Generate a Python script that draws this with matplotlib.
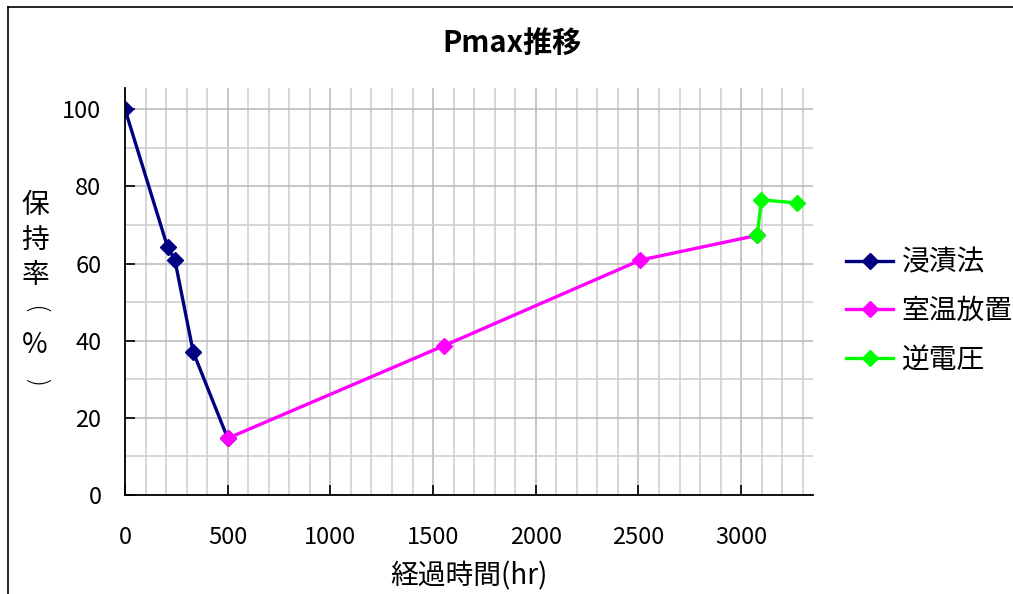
import matplotlib
matplotlib.use("Agg")
import matplotlib.pyplot as plt
from matplotlib.lines import Line2D
from matplotlib.ticker import MultipleLocator

plt.rcParams['font.family'] = ['Noto Sans CJK JP', 'DejaVu Sans']

# 経過時間 (hr) と保持率 (%)
dip_hours = [0, 207, 243, 332, 500]
dip_ratio = [100, 64.3, 60.9, 37.1, 14.7]

room_hours = [500, 1553, 2510, 3078]
room_ratio = [14.7, 38.7, 60.9, 67.3]

rev_hours = [3078, 3099, 3272]
rev_ratio = [67.3, 76.5, 75.7]

series_names = ['浸漬法', '室温放置', '逆電圧']
series_colors = ['#000080', '#ff00ff', '#00ff00']

W, H = 1013, 594
fig = plt.figure(figsize=(W / 100, H / 100), dpi=100)

# chart area frame (left and top edges visible)
fig.add_artist(Line2D([8 / W, 8 / W], [0, 1 - 7 / H], transform=fig.transFigure,
                      color='black', lw=1.2))
fig.add_artist(Line2D([8 / W, 1], [1 - 7 / H, 1 - 7 / H], transform=fig.transFigure,
                      color='black', lw=1.2))

ax = fig.add_axes([125 / W, 1 - 495 / H, (813 - 125) / W, (495 - 88) / H])

for xs, ys, c, name in zip([dip_hours, room_hours, rev_hours],
                           [dip_ratio, room_ratio, rev_ratio],
                           series_colors, series_names):
    ax.plot(xs, ys, color=c, lw=2.4, marker='D', markersize=8.5,
            markeredgecolor=c, label=name)

ax.set_xlim(0, 3350)
ax.set_ylim(0, 105.5)
ax.xaxis.set_major_locator(MultipleLocator(500))
ax.xaxis.set_minor_locator(MultipleLocator(100))
ax.yaxis.set_major_locator(MultipleLocator(20))
ax.yaxis.set_minor_locator(MultipleLocator(10))

ax.grid(which='major', color='#bdbdbd', lw=1.2)
ax.grid(which='minor', color='#d0d0d0', lw=1.2)
ax.set_axisbelow(True)

for side in ['top', 'right']:
    ax.spines[side].set_visible(False)
for side in ['left', 'bottom']:
    ax.spines[side].set_linewidth(1.3)

ax.tick_params(which='major', direction='in', length=7, width=1.2,
               labelsize=17)
ax.tick_params(axis='y', pad=17)
ax.tick_params(axis='x', pad=22)
ax.tick_params(which='minor', length=0)

ax.set_xlabel('経過時間(hr)', fontsize=20, labelpad=9)

fig.text(0.505, 1 - 43 / H, 'Pmax推移', ha='center', va='center',
         fontsize=21, fontweight='bold')

# vertical y-axis title, one character per line; brackets turned sideways
ylabel_chars = [('保', 205, 0), ('持', 240, 0), ('率', 275, 0),
                ('(', 310, -90), ('%', 345, 0), (')', 383, -90)]
for ch, py, rot in ylabel_chars:
    if rot:
        fig.text(35 / W, 1 - py / H, ch, ha='center', va='center',
                 fontsize=19, rotation=rot, family=['DejaVu Sans'],
                 fontweight='light')
    else:
        fig.text(35 / W, 1 - py / H, ch, ha='center', va='center',
                 fontsize=20)

fig.legend(loc='center left', bbox_to_anchor=(832 / W, 1 - 311 / H),
           frameon=False, fontsize=20, handlelength=1.7, handletextpad=0.3,
           labelspacing=0.67, borderpad=0)

fig.savefig('out.png', dpi=100)
